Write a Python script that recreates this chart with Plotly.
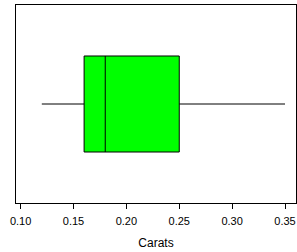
import plotly.graph_objects as go

# Box statistics (carats)
q1 = [0.16]
median = [0.18]
q3 = [0.25]
lower_fence = [0.12]
upper_fence = [0.35]
positions = [0]

tick_vals = [0.10, 0.15, 0.20, 0.25, 0.30, 0.35]
tick_text = ["0.10", "0.15", "0.20", "0.25", "0.30", "0.35"]

fig = go.Figure()
fig.add_trace(go.Box(
    q1=q1, median=median, q3=q3,
    lowerfence=lower_fence, upperfence=upper_fence,
    y=positions, orientation="h",
    width=0.97,
    whiskerwidth=0,
    fillcolor="#00FF00",
    line=dict(color="black", width=1),
    boxpoints=False,
    showlegend=False,
    hoverinfo="skip",
))

fig.update_layout(
    width=297, height=252,
    margin=dict(l=16, r=1, t=5, b=49),
    paper_bgcolor="white", plot_bgcolor="white",
    font=dict(family="Liberation Sans, Arial, sans-serif", color="black"),
    xaxis=dict(
        range=[0.0956, 0.3604],
        tickvals=tick_vals, ticktext=tick_text,
        ticks="outside", ticklen=5, tickcolor="black", tickwidth=1,
        ticklabelstandoff=3,
        showline=True, linecolor="black", linewidth=1, mirror=True,
        showgrid=False, zeroline=False,
        automargin=False,
        tickfont=dict(size=11),
        title=dict(text="Carats", font=dict(size=12), standoff=12),
    ),
    yaxis=dict(
        range=[-1, 1],
        showticklabels=False, ticks="",
        showline=True, linecolor="black", linewidth=1, mirror=True,
        showgrid=False, zeroline=False,
        automargin=False,
    ),
)

fig.write_html(
    "out.html",
    config={"displayModeBar": False, "staticPlot": True},
    post_script="document.body.style.margin='0';document.body.style.overflow='hidden';",
)
